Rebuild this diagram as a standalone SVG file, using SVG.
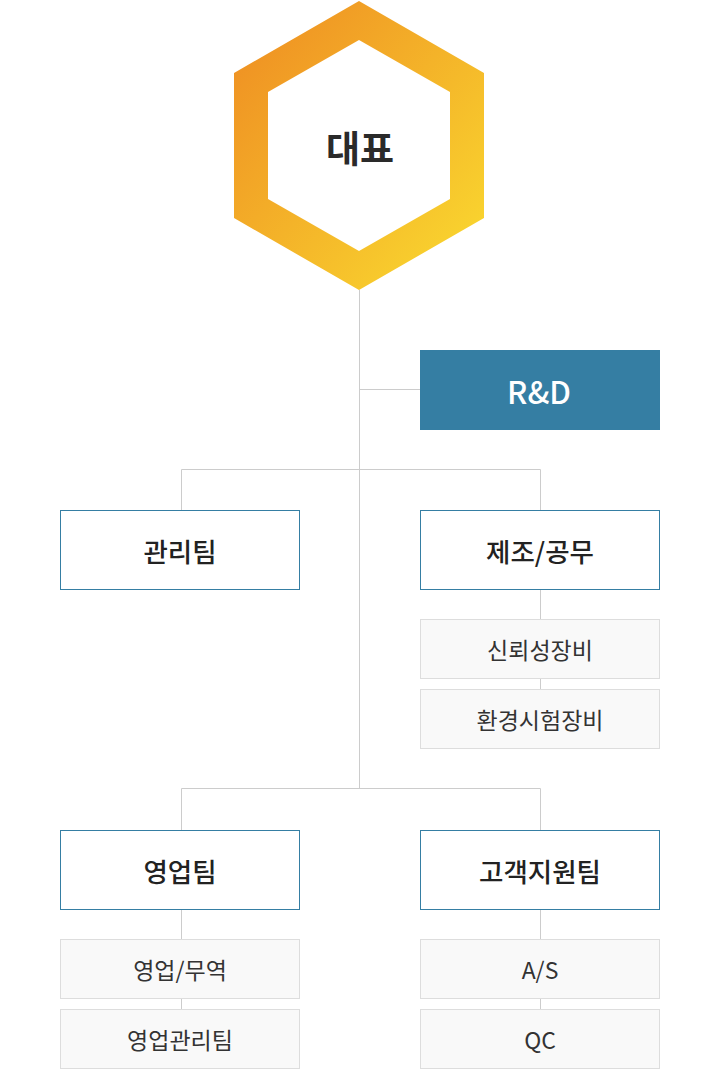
<svg xmlns="http://www.w3.org/2000/svg" width="720" height="1070" viewBox="0 0 720 1070">
<defs>
<linearGradient id="hexg" x1="0" y1="0" x2="1" y2="1">
<stop offset="0" stop-color="#EE8A22"/>
<stop offset="1" stop-color="#FADC30"/>
</linearGradient>
<style>
.t{font-family:"Noto Sans CJK KR","Noto Sans",sans-serif;text-anchor:middle;dominant-baseline:central}
.main rect{fill:#fff;stroke:#357EA3;stroke-width:1}
.main text{font-size:26.5px;fill:#222;font-weight:500}
.sub rect{fill:#f9f9f9;stroke:#dddddd;stroke-width:1}
.sub text{font-size:23px;fill:#333}
.ln{stroke:#cccccc;stroke-width:1;fill:none}
</style>
</defs>
<g id="connectors">
<path class="ln" d="M359.5 290V788.5M359.5 389.5H420M181.5 469.5H540.5M181.5 469.5V510M540.5 469.5V510M540.5 590V619M540.5 679V689M181.5 788.5H540.5M181.5 788.5V830M540.5 788.5V830M181.5 910V939M181.5 999V1009M540.5 910V939M540.5 999V1009"/>
</g>
<g id="ceo">
<path fill="url(#hexg)" fill-rule="evenodd" d="M359 1L484 73V218L359 290L234 218V73Z M359 40L268 92V199L359 251L450 199V92Z"/>
<text class="t" x="360" y="147" font-size="37" font-weight="700" fill="#2a2a2a">대표</text>
</g>
<g id="rnd">
<rect x="420" y="350" width="240" height="80" fill="#357EA3"/>
<text class="t" x="539" y="390" font-size="31" fill="#fff" font-weight="500">R&amp;D</text>
</g>
<g id="admin" class="main">
<rect x="60.5" y="510.5" width="239" height="79"/>
<text class="t" x="180" y="550">관리팀</text>
</g>
<g id="mfg" class="main">
<rect x="420.5" y="510.5" width="239" height="79"/>
<text class="t" x="540" y="550">제조/공무</text>
</g>
<g id="reliability" class="sub">
<rect x="420.5" y="619.5" width="239" height="59"/>
<text class="t" x="540" y="649">신뢰성장비</text>
</g>
<g id="envtest" class="sub">
<rect x="420.5" y="689.5" width="239" height="59"/>
<text class="t" x="540" y="719">환경시험장비</text>
</g>
<g id="sales" class="main">
<rect x="60.5" y="830.5" width="239" height="79"/>
<text class="t" x="180" y="870">영업팀</text>
</g>
<g id="cs" class="main">
<rect x="420.5" y="830.5" width="239" height="79"/>
<text class="t" x="540" y="870">고객지원팀</text>
</g>
<g id="trade" class="sub">
<rect x="60.5" y="939.5" width="239" height="59"/>
<text class="t" x="180" y="969">영업/무역</text>
</g>
<g id="salesadmin" class="sub">
<rect x="60.5" y="1009.5" width="239" height="59"/>
<text class="t" x="180" y="1039">영업관리팀</text>
</g>
<g id="as" class="sub">
<rect x="420.5" y="939.5" width="239" height="59"/>
<text class="t" x="540" y="969">A/S</text>
</g>
<g id="qc" class="sub">
<rect x="420.5" y="1009.5" width="239" height="59"/>
<text class="t" x="540" y="1039">QC</text>
</g>
</svg>
